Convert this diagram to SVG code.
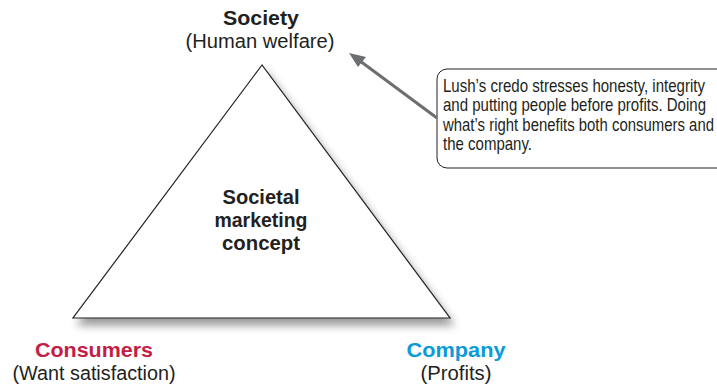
<svg xmlns="http://www.w3.org/2000/svg" width="717" height="389" viewBox="0 0 717 389">
<style>
.t{font-family:"Liberation Sans",Arial,sans-serif;fill:#231f20}
.b{font-weight:bold;font-size:20px}
.r{font-size:20px}
.n{font-family:"Liberation Sans Narrow","Liberation Sans",Arial,sans-serif;font-size:15px;fill:#231f20}
</style>
<defs>
<filter id="sh" x="-20%" y="-20%" width="140%" height="140%">
<feGaussianBlur in="SourceAlpha" stdDeviation="4"/>
<feOffset dx="4" dy="7"/>
<feComponentTransfer><feFuncA type="linear" slope="0.4"/></feComponentTransfer>
<feMerge><feMergeNode/><feMergeNode in="SourceGraphic"/></feMerge>
</filter>
</defs>
<g id="triangle">
<polygon points="262,65 73,318 450,318" fill="#fff" stroke="#231f20" stroke-width="1.2" filter="url(#sh)"/>
<text class="t b" x="261" y="204" text-anchor="middle" textLength="77" lengthAdjust="spacingAndGlyphs">Societal</text>
<text class="t b" x="261" y="227" text-anchor="middle" textLength="93" lengthAdjust="spacingAndGlyphs">marketing</text>
<text class="t b" x="261" y="250" text-anchor="middle" textLength="78" lengthAdjust="spacingAndGlyphs">concept</text>
</g>
<g id="society">
<text class="t b" x="261" y="25" text-anchor="middle" textLength="76" lengthAdjust="spacingAndGlyphs">Society</text>
<text class="t r" x="260" y="48" text-anchor="middle" textLength="149" lengthAdjust="spacingAndGlyphs">(Human welfare)</text>
</g>
<g id="consumers">
<text class="t b" x="94" y="357" text-anchor="middle" style="fill:#c41e45" textLength="118" lengthAdjust="spacingAndGlyphs">Consumers</text>
<text class="t r" x="94" y="380" text-anchor="middle" textLength="163" lengthAdjust="spacingAndGlyphs">(Want satisfaction)</text>
</g>
<g id="company">
<text class="t b" x="456" y="357" text-anchor="middle" style="fill:#0a9bd8" textLength="99" lengthAdjust="spacingAndGlyphs">Company</text>
<text class="t r" x="456" y="380" text-anchor="middle" textLength="71" lengthAdjust="spacingAndGlyphs">(Profits)</text>
</g>
<g id="callout">
<rect x="437" y="69" width="300" height="99" rx="10" fill="#fff" stroke="#231f20" stroke-width="1"/>
<g transform="scale(1,1.25)">
<text class="n" x="443" y="73.6" textLength="262" lengthAdjust="spacingAndGlyphs">Lush’s credo stresses honesty, integrity</text>
<text class="n" x="443" y="88.8" textLength="263" lengthAdjust="spacingAndGlyphs">and putting people before profits. Doing</text>
<text class="n" x="443" y="104.8" textLength="271" lengthAdjust="spacingAndGlyphs" style="font-size:14.5px">what’s right benefits both consumers and</text>
<text class="n" x="443" y="120" textLength="89" lengthAdjust="spacingAndGlyphs">the company.</text>
</g>
</g>
<g id="connectors">
<line x1="437" y1="118" x2="356" y2="58" stroke="#6d6e71" stroke-width="3"/>
<path d="M349,53 L366,57 L358,67 Z" fill="#6d6e71"/>
</g>
</svg>
